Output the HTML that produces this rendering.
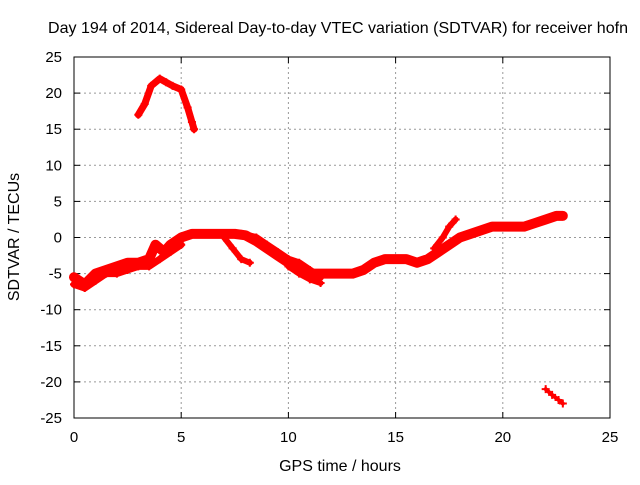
<!DOCTYPE html>
<html><head><meta charset="utf-8"><style>
body{margin:0;background:#fff;}
svg text{font-family:"Liberation Sans",sans-serif;fill:#000;}
</style></head><body>
<svg width="640" height="480">
<g id="grid"></g>
<g id="axes"></g>
<g id="series"></g>
<text x="338" y="33" text-anchor="middle" font-size="16" textLength="580" lengthAdjust="spacingAndGlyphs">Day 194 of 2014, Sidereal Day-to-day VTEC variation (SDTVAR) for receiver hofn</text>
<text x="340" y="471" text-anchor="middle" font-size="16">GPS time / hours</text>
<text x="19" y="237" text-anchor="middle" font-size="16" transform="rotate(-90 19 237)">SDTVAR / TECUs</text>
</svg>
<script>
const xTicks=[0,5,10,15,20,25];
const yTicks=[25,20,15,10,5,0,-5,-10,-15,-20,-25];
const traceMainH=[0,0.5,1,1.5,2,2.5,3,3.5,3.8,4.2,4.5,5,5.5,6,6.5,7,7.5,8,8.5,9,9.5,10,10.5,11,11.5,12,12.5,13,13.5,14,14.5,15,15.5,16,16.5,17,17.5,18,18.5,19,19.5,20,20.5,21,21.5,22,22.5,22.8];
const traceMainV=[-5.5,-6.5,-5,-4.5,-4,-3.5,-3.5,-3,-1,-2,-1,0,0.5,0.5,0.5,0.5,0.5,0.3,-0.5,-1.5,-2.5,-3.5,-4.5,-5,-5,-5,-5,-5,-4.5,-3.5,-3,-3,-3,-3.5,-3,-2,-1,0,0.5,1,1.5,1.5,1.5,1.5,2,2.5,3,3];
const traceLowH=[0,0.5,1,1.5,2,2.5,3,3.5,4,4.5,5];
const traceLowV=[-6.5,-7,-6,-5,-5,-4.5,-4,-4,-3,-2,-1];
const traceBranchH=[7.8,8.5,9,9.5,10,10.5,11,11.5];
const traceBranchV=[0.5,0,-1,-2,-3,-3.5,-4.5,-5.5];
const traceLoopH=[7,7.4,7.8,8.2];
const traceLoopV=[0,-1.5,-3,-3.5];
const traceDipH=[10,10.5,11,11.5];
const traceDipV=[-4,-5,-5.8,-6.3];
const traceRiseH=[16.8,17.2,17.5,17.8];
const traceRiseV=[-1.5,0,1.5,2.5];
const traceArcH=[3,3.3,3.6,4,4.3,4.6,5,5.3,5.5,5.6];
const traceArcV=[17,18.5,21,22,21.5,21,20.5,18,16,15];
const traceTailH=[22,22.3,22.6,22.8];
const traceTailV=[-21,-21.8,-22.5,-23];
const X=h=>74+h*(536/25), Y=v=>237.5-v*(361/50);
const NS="http://www.w3.org/2000/svg";
function mk(p,t,a){const e=document.createElementNS(NS,t);for(const k in a)e.setAttribute(k,a[k]);p.appendChild(e);return e;}
const grid=document.getElementById('grid'),axes=document.getElementById('axes'),ser=document.getElementById('series');
mk(axes,'rect',{x:74,y:57,width:536,height:361,fill:'none',stroke:'#000','stroke-width':1});
xTicks.forEach(t=>{const x=X(t);
 if(t>0&&t<25){const l=mk(grid,'line',{x1:x,x2:x,y1:57,y2:418,stroke:'#999','stroke-dasharray':'2,3'});}
 const tx=mk(axes,'text',{x:x,y:442,'text-anchor':'middle','font-size':15});tx.textContent=t;
 
 mk(axes,'line',{x1:x,x2:x,y1:418,y2:412,stroke:'#000'});mk(axes,'line',{x1:x,x2:x,y1:57,y2:63,stroke:'#000'});});
yTicks.forEach(t=>{const y=Y(t);
 if(t>-25&&t<25){const l=mk(grid,'line',{x1:74,x2:610,y1:y,y2:y,stroke:'#999','stroke-dasharray':'2,3'});}
 const tx=mk(axes,'text',{x:62,y:y+5,'text-anchor':'end','font-size':15});tx.textContent=t;
 
 mk(axes,'line',{x1:74,x2:80,y1:y,y2:y,stroke:'#000'});mk(axes,'line',{x1:610,x2:604,y1:y,y2:y,stroke:'#000'});});
const traces=[[traceMainH,traceMainV,10],[traceLowH,traceLowV,7],[traceBranchH,traceBranchV,7],[traceLoopH,traceLoopV,6],[traceDipH,traceDipV,6],[traceRiseH,traceRiseV,6],[traceArcH,traceArcV,7],[traceTailH,traceTailV,4]];
traces.forEach(([H,V,w])=>{
 const pts=H.map((h,i)=>X(h)+','+Y(V[i])).join(' ');
 const pl=mk(ser,'polyline',{points:pts,fill:'none',stroke:'#f00','stroke-width':w,'stroke-linejoin':'round','stroke-linecap':'round'});
 
 
 H.forEach((h,i)=>{const x=X(h),y=Y(V[i]);
  const m=mk(ser,'path',{d:`M${x-4},${y}H${x+4}M${x},${y-4}V${y+4}`,stroke:'#f00','stroke-width':2});
  
  });
});
</script>
</body></html>
